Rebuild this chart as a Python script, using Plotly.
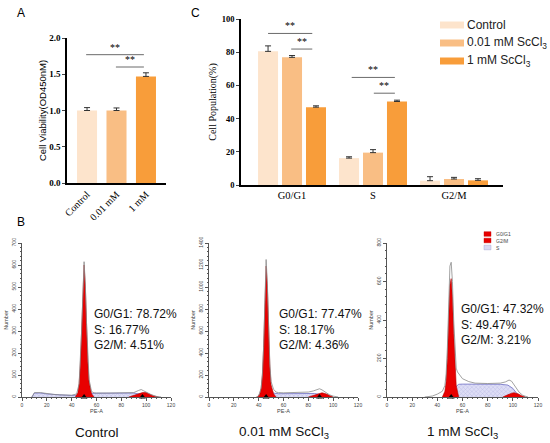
import plotly.graph_objects as go

W, H = 550, 443

# ---------------- Panel A data ----------------
A_CATS = ["Control", "0.01 mM", "1 mM"]
A_VALS = [1.00, 1.00, 1.47]
A_ERR = [0.04, 0.035, 0.05]

# ---------------- Panel C data ----------------
C_GROUPS = ["G0/G1", "S", "G2/M"]
C_SERIES = ["Control", "0.01 mM ScCl<sub>3</sub>", "1 mM ScCl<sub>3</sub>"]
C_CTRL = [80.5, 16.2, 2.6]
C_CTRL_ERR = [3.3, 0.8, 2.4]
C_LOW = [76.9, 19.5, 3.6]
C_LOW_ERR = [1.1, 1.8, 1.0]
C_HIGH = [46.9, 50.3, 2.8]
C_HIGH_ERR = [0.8, 0.8, 1.0]

COLORS = ["#fde4cc", "#f9be84", "#f89d3a"]

# ---------------- Panel B (flow cytometry) data ----------------
CTRL_G1_X = [43, 45, 46, 47, 48, 49, 50, 51, 52, 53, 54, 56, 58]
CTRL_G1_Y = [0, 20, 60, 150, 300, 480, 600, 500, 320, 160, 70, 15, 0]
CTRL_G2_X = [86, 90, 94, 97, 100, 103, 106, 110]
CTRL_G2_Y = [0, 6, 15, 20, 20, 13, 5, 0]
CTRL_S_X = [8, 10, 15, 20, 30, 40, 48, 55, 60, 70, 80, 90, 95, 100]
CTRL_S_Y = [0, 18, 18, 14, 10, 7, 9, 16, 17, 17, 17, 18, 13, 0]
CTRL_RAW_X = [8, 10, 15, 20, 25, 30, 35, 40, 44, 46, 48, 49, 50, 51, 52, 54, 56, 58, 60,
              70, 80, 90, 94, 96, 98, 100, 104, 108, 112]
CTRL_RAW_Y = [0, 20, 20, 15, 12, 10, 8, 8, 14, 60, 300, 480, 615, 510, 330, 80, 25, 19, 18,
              18, 18, 20, 30, 34, 28, 22, 11, 3, 0]
CTRL_MARK = [50, 97]
CTRL_PCT = ["78.72%", "16.77%", "4.51%"]

LOW_G1_X = [39, 41, 42, 43, 44, 45, 46, 47, 48, 49, 50, 52, 54]
LOW_G1_Y = [0, 30, 80, 200, 450, 850, 1190, 1000, 600, 280, 110, 30, 0]
LOW_G2_X = [80, 84, 88, 91, 94, 97, 100]
LOW_G2_Y = [0, 12, 30, 38, 30, 12, 0]
LOW_S_X = [44, 48, 52, 56, 60, 70, 80, 85, 90, 95]
LOW_S_Y = [0, 20, 35, 30, 30, 32, 33, 32, 22, 0]
LOW_RAW_X = [38, 40, 42, 43, 44, 45, 46, 47, 48, 49, 50, 52, 54, 56, 60, 70, 80, 84, 87,
             89, 91, 94, 97, 100, 104]
LOW_RAW_Y = [0, 10, 80, 200, 460, 870, 1250, 1030, 620, 300, 140, 70, 45, 40, 38, 40, 45,
             55, 70, 75, 65, 40, 20, 8, 0]
LOW_MARK = [46, 89]
LOW_PCT = ["77.47%", "18.17%", "4.36%"]

HIGH_G1_X = [44, 46, 47, 48, 49, 50, 51, 52, 53, 54, 55, 57]
HIGH_G1_Y = [0, 30, 80, 200, 400, 580, 615, 520, 330, 160, 60, 0]
HIGH_G2_X = [92, 96, 99, 101, 104, 107, 110]
HIGH_G2_Y = [0, 12, 20, 22, 17, 7, 0]
HIGH_S_X = [46, 50, 54, 57, 60, 70, 80, 90, 96, 100, 103, 106]
HIGH_S_Y = [0, 20, 50, 66, 67, 67, 67, 66, 62, 45, 20, 0]
HIGH_RAW_X = [30, 36, 40, 44, 46, 47, 48, 49, 50, 51, 52, 53, 54, 55, 56, 58, 60, 65, 70,
              80, 90, 94, 97, 99, 102, 105, 108, 112]
HIGH_RAW_Y = [0, 5, 15, 30, 60, 120, 260, 480, 680, 700, 600, 400, 230, 150, 130, 110, 95,
              80, 72, 70, 72, 78, 88, 82, 55, 25, 8, 0]
HIGH_MARK = [51]
HIGH_PCT = ["47.32%", "49.47%", "3.21%"]

HIST_LABELS = ["Control", "0.01 mM ScCl<sub>3</sub>", "1 mM ScCl<sub>3</sub>"]
HIST_YMAX = [700, 1400, 800]
HIST_YDTICK = [100, 200, 200]


def px(x):
    return x / W


def py(y):
    return 1 - y / H


fig = go.Figure()

SERIF = "Liberation Serif"
SANS = "Liberation Sans"

# ---- Panel A bars ----
fig.add_trace(go.Bar(
    x=list(range(len(A_CATS))), y=A_VALS, width=0.68,
    marker=dict(color=COLORS, line=dict(width=0)),
    error_y=dict(type="data", symmetric=False, array=A_ERR, arrayminus=[0] * 3,
                 color="#333", thickness=1, width=3),
    xaxis="x", yaxis="y", showlegend=False))

# ---- Panel C bars ----
shifts = [-0.296, 0.0, 0.296]
for name, vals, errs, col, sh in zip(C_SERIES, [C_CTRL, C_LOW, C_HIGH],
                                     [C_CTRL_ERR, C_LOW_ERR, C_HIGH_ERR], COLORS, shifts):
    fig.add_trace(go.Bar(
        x=[i + sh for i in range(len(C_GROUPS))], y=vals, width=0.247, name=name,
        marker=dict(color=col, line=dict(width=0)),
        error_y=dict(type="data", symmetric=False, array=errs, arrayminus=[0] * 3,
                     color="#333", thickness=1, width=3),
        xaxis="x2", yaxis="y2", showlegend=False))

# ---- Panel B histograms ----
hists = [
    (CTRL_G1_X, CTRL_G1_Y, CTRL_G2_X, CTRL_G2_Y, CTRL_S_X, CTRL_S_Y, CTRL_RAW_X, CTRL_RAW_Y, CTRL_MARK),
    (LOW_G1_X, LOW_G1_Y, LOW_G2_X, LOW_G2_Y, LOW_S_X, LOW_S_Y, LOW_RAW_X, LOW_RAW_Y, LOW_MARK),
    (HIGH_G1_X, HIGH_G1_Y, HIGH_G2_X, HIGH_G2_Y, HIGH_S_X, HIGH_S_Y, HIGH_RAW_X, HIGH_RAW_Y, HIGH_MARK),
]
for k, (g1x, g1y, g2x, g2y, sx, sy, rx, ry, mk) in enumerate(hists):
    xa, ya = f"x{k + 3}", f"y{k + 3}"
    fig.add_trace(go.Scatter(
        x=sx, y=sy, mode="lines", fill="tozeroy",
        line=dict(color="#6f6fc4", width=0.8),
        fillcolor="#d9d9f3",
        fillpattern=dict(shape="x", fgcolor="#8c8cd0", bgcolor="#dedef6", size=3, solidity=0.25),
        xaxis=xa, yaxis=ya, showlegend=False, hoverinfo="skip"))
    fig.add_trace(go.Scatter(
        x=g2x, y=g2y, mode="lines", fill="tozeroy",
        line=dict(color="#b00000", width=0.6), fillcolor="#e80000",
        xaxis=xa, yaxis=ya, showlegend=False, hoverinfo="skip"))
    fig.add_trace(go.Scatter(
        x=g1x, y=g1y, mode="lines", fill="tozeroy",
        line=dict(color="#b00000", width=0.6), fillcolor="#e80000",
        xaxis=xa, yaxis=ya, showlegend=False, hoverinfo="skip"))
    fig.add_trace(go.Scatter(
        x=rx, y=ry, mode="lines", line=dict(color="#8a8a8a", width=0.8),
        xaxis=xa, yaxis=ya, showlegend=False, hoverinfo="skip"))
    fig.add_trace(go.Scatter(
        x=mk, y=[0] * len(mk), mode="markers", cliponaxis=False,
        marker=dict(symbol="triangle-up", size=6, color="black"),
        xaxis=xa, yaxis=ya, showlegend=False, hoverinfo="skip"))

layout = dict(
    width=W, height=H, margin=dict(l=0, r=0, t=0, b=0, autoexpand=False),
    paper_bgcolor="white", plot_bgcolor="white",
    barmode="overlay", showlegend=False,
    font=dict(family=SANS, color="black"),
)

# Panel A axes
layout["xaxis"] = dict(
    domain=[px(67), px(166)], range=[-0.68, 2.68], anchor="y", automargin=False,
    tickvals=list(range(len(A_CATS))), ticktext=A_CATS, tickangle=-45,
    tickfont=dict(family=SERIF, size=10, color="black"),
    showline=True, linecolor="black", linewidth=1.5, ticks="", showgrid=False, zeroline=False)
layout["yaxis"] = dict(
    domain=[py(183), py(38)], range=[0, 2.0], anchor="x", automargin=False,
    tickvals=[0, 0.5, 1.0, 1.5, 2.0], ticktext=["0.0", "0.5", "1.0", "1.5", "2.0"],
    tickfont=dict(family=SERIF, size=9, color="black", weight="bold"),
    showline=True, linecolor="black", linewidth=1.5, ticks="outside", ticklen=3,
    tickwidth=1.2, showgrid=False, zeroline=False,
    title=dict(text="Cell Viability(OD450nM)", font=dict(family=SANS, size=9.5), standoff=1))

# Panel C axes
layout["xaxis2"] = dict(
    domain=[px(241), px(503)], range=[-0.63, 2.605], anchor="y2", automargin=False,
    tickvals=list(range(len(C_GROUPS))), ticktext=C_GROUPS,
    tickfont=dict(family=SERIF, size=10.5, color="black"),
    showline=True, linecolor="black", linewidth=1.5, ticks="", showgrid=False, zeroline=False)
layout["yaxis2"] = dict(
    domain=[py(185), py(19)], range=[0, 100], anchor="x2", dtick=20, automargin=False,
    tickfont=dict(family=SERIF, size=8.5, color="black", weight="bold"),
    showline=True, linecolor="black", linewidth=1.5, ticks="outside", ticklen=3,
    tickwidth=1.2, showgrid=False, zeroline=False,
    title=dict(text="Cell Population(%)", font=dict(family=SERIF, size=10), standoff=3))

hist_xdom = [(22, 171), (209, 358), (387, 538)]
for k in range(3):
    xa_key, ya_key = f"xaxis{k + 3}", f"yaxis{k + 3}"
    layout[xa_key] = dict(
        domain=[px(hist_xdom[k][0]), px(hist_xdom[k][1])], range=[0, 120], anchor=f"y{k + 3}",
        automargin=False,
        dtick=20, tickfont=dict(size=5, color="#444"),
        showline=True, linecolor="#555", linewidth=0.8, ticks="outside", ticklen=3,
        tickwidth=0.7, tickcolor="#555",
        minor=dict(ticks="outside", ticklen=1.5, dtick=4, tickcolor="#555", tickwidth=0.6),
        showgrid=False, zeroline=False,
        title=dict(text="PE-A", font=dict(size=5.5, color="#444"), standoff=2))
    layout[ya_key] = dict(
        domain=[py(397), py(243)], range=[0, HIST_YMAX[k]], anchor=f"x{k + 3}",
        automargin=False,
        dtick=HIST_YDTICK[k], tickangle=-90, tickfont=dict(size=5, color="#444"),
        showline=True, linecolor="#555", linewidth=0.8, ticks="outside", ticklen=3,
        tickwidth=0.7, tickcolor="#555",
        minor=dict(ticks="outside", ticklen=1.5, dtick=HIST_YDTICK[k] / 5, tickcolor="#555",
                   tickwidth=0.6),
        showgrid=False, zeroline=False,
        title=dict(text="Number", font=dict(size=5.5, color="#444"), standoff=2))

annotations = []
shapes = []

# Panel labels
for lab, x, y in [("A", 21, 13), ("C", 195, 13), ("B", 21, 222)]:
    annotations.append(dict(text=lab, x=px(x), y=py(y), xref="paper", yref="paper",
                            xanchor="center", yanchor="middle",
                            showarrow=False, font=dict(family=SANS, size=12)))

# Significance brackets (data coords)
SIG_A = [(-0.03, 1.93, 1.77), (0.98, 1.93, 1.60)]
for x0, x1, yv in SIG_A:
    shapes.append(dict(type="line", xref="x", yref="y", x0=x0, x1=x1, y0=yv, y1=yv,
                       line=dict(color="#6b6b6b", width=1)))
    annotations.append(dict(text="**", x=(x0 + x1) / 2, y=yv, xref="x", yref="y",
                            xanchor="center", yanchor="bottom", showarrow=False,
                            font=dict(family=SERIF, size=10)))
SIG_C = [(-0.296, 0.25, 91.3), (-0.01, 0.25, 81.9), (0.737, 1.27, 64.8), (1.01, 1.27, 55.3)]
for x0, x1, yv in SIG_C:
    shapes.append(dict(type="line", xref="x2", yref="y2", x0=x0, x1=x1, y0=yv, y1=yv,
                       line=dict(color="#6b6b6b", width=1)))
    annotations.append(dict(text="**", x=(x0 + x1) / 2, y=yv, xref="x2", yref="y2",
                            xanchor="center", yanchor="bottom", showarrow=False,
                            font=dict(family=SERIF, size=10)))

# Panel C legend
leg_rows = [25, 43, 61]
for name, col, yy in zip(C_SERIES, COLORS, leg_rows):
    shapes.append(dict(type="rect", xref="paper", yref="paper", x0=px(440), x1=px(464),
                       y0=py(yy + 3.5), y1=py(yy - 3.5), fillcolor=col, line=dict(width=0)))
    annotations.append(dict(text=name, x=px(465), y=py(yy), xref="paper", yref="paper",
                            xanchor="left", yanchor="middle", showarrow=False,
                            font=dict(family=SANS, size=12, color="#222")))

# Histogram legend (panel 3)
hist_leg = [("G0/G1", 234, "#e80000"), ("G2/M", 240.5, "#e80000"), ("S", 247.5, "#d9d9f3")]
for name, yy, col in hist_leg:
    shapes.append(dict(type="rect", xref="paper", yref="paper", x0=px(484), x1=px(491),
                       y0=py(yy + 2.3), y1=py(yy - 2.3), fillcolor=col,
                       line=dict(width=0.4, color="#9a9ad0" if name == "S" else "#c00000")))
    annotations.append(dict(text=name, x=px(494), y=py(yy), xref="paper", yref="paper",
                            xanchor="left", yanchor="middle", showarrow=False,
                            font=dict(family=SANS, size=5, color="#444")))

# Histogram percentage texts and sample labels
pct_pos = [(0.47, 0.60), (0.456, 0.60), (0.477, 0.63)]
for k, pct in enumerate([CTRL_PCT, LOW_PCT, HIGH_PCT]):
    txt = f"G0/G1: {pct[0]}<br>S: {pct[1]}<br>G2/M: {pct[2]}"
    annotations.append(dict(text=txt, x=pct_pos[k][0], y=pct_pos[k][1],
                            xref=f"x{k + 3} domain", yref=f"y{k + 3} domain",
                            xanchor="left", yanchor="top", align="left", showarrow=False,
                            font=dict(family=SANS, size=12, color="#111")))
    annotations.append(dict(text=HIST_LABELS[k], x=0.5, y=py(432),
                            xref=f"x{k + 3} domain", yref="paper",
                            xanchor="center", yanchor="middle", showarrow=False,
                            font=dict(family=SANS, size=13.5, color="#111")))

layout["annotations"] = annotations
layout["shapes"] = shapes
fig.update_layout(**layout)

fig.write_html("out.html", config={"displayModeBar": False},
               post_script="document.body.style.margin='0px';document.body.style.padding='0px';")
